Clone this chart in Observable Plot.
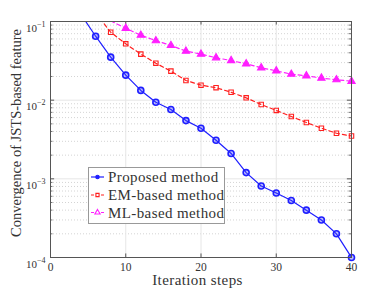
<!DOCTYPE html>
<html><head><meta charset="utf-8">
<script src="https://cdn.jsdelivr.net/npm/d3@7"></script>
<script src="https://cdn.jsdelivr.net/npm/@observablehq/plot@0.6"></script>
<style>body{margin:0;background:#fff} svg{display:block}</style>
</head><body><div id="chart"></div>
<script>
const steps    = [4, 6, 8, 10, 12, 14, 16, 18, 20, 22, 24, 26, 28, 30, 32, 34, 36, 38, 40];
const proposed = [0.125, 0.065, 0.0352, 0.0208, 0.0133, 0.0094, 0.0076, 0.0055, 0.0044, 0.0031, 0.0021, 0.0012, 0.00081, 0.00066, 0.00053, 0.0004, 0.0003, 0.0002, 0.0001];
const emBased  = [null, 0.129, 0.073, 0.052, 0.0385, 0.0295, 0.0234, 0.0178, 0.0155, 0.0144, 0.0126, 0.0107, 0.0088, 0.0074, 0.0062, 0.0052, 0.0044, 0.0038, 0.0035];
const mlBased  = [null, null, 0.102, 0.082, 0.067, 0.057, 0.0496, 0.042, 0.0385, 0.0346, 0.0319, 0.029, 0.0258, 0.0236, 0.0214, 0.0204, 0.0191, 0.0182, 0.0174];
const seriesNames = ["Proposed method", "EM-based method", "ML-based method"];
const xTicks = [0, 10, 20, 30, 40];
const yTicks = [1e-4, 1e-3, 1e-2, 1e-1];
const xLabel = "Iteration steps";
const yLabel = "Convergence of JSTS-based feature";

const colors = ["#1f1fff", "#ff1f1f", "#ff1fff"];
const symbols = ["circle", "square", "triangle"];
const yMax = yTicks[yTicks.length - 1], yMin = yTicks[0];
const xMin = xTicks[0], xMax = xTicks[xTicks.length - 1];
const minorY = yTicks.slice(0, -1).flatMap(d => [2,3,4,5,6,7,8,9].map(k => k * d));

const rows = (vals) => steps.map((s, i) => ({step: s, v: vals[i]})).filter(d => d.v != null);
const data = [proposed, emBased, mlBased].map(rows);
const inside = (arr) => arr.filter(d => d.v <= yMax * 1.0001);

const lineOpts = (i) => ({x: "step", y: "v", stroke: colors[i], strokeWidth: 1.2, clip: true,
  strokeDasharray: i === 0 ? null : "4,3"});
const dotOpts = (i) => ({x: "step", y: "v", symbol: () => symbols[i], r: [3, 2.5, 2.7][i],
  stroke: colors[i], strokeWidth: i === 0 ? 1.6 : 1.1,
  fill: i === 2 ? colors[i] : (i === 0 ? "rgba(60,60,255,0.35)" : "none")});

const tickLen = 0.55, tickLenY = 0.045;
const W = 388, H = 291, mL = 50, mR = 37, mT = 21, mB = 34;
const plot = Plot.plot({
  width: W, height: H,
  marginLeft: mL, marginRight: mR, marginTop: mT, marginBottom: mB,
  style: {fontFamily: "'Liberation Serif', serif", fontSize: "11px", color: "#333", background: "#fff"},
  x: {domain: [xMin, xMax]},
  y: {type: "log", domain: [yMin, yMax]},
  marks: [
    Plot.ruleY(minorY, {stroke: "#d4d4d4", strokeDasharray: "1,2"}),
    Plot.ruleY(yTicks.slice(1, -1), {stroke: "#e6e6e6"}),
    Plot.ruleX(xTicks.slice(1, -1), {stroke: "#e6e6e6"}),
    Plot.ruleY(yTicks, {x1: xMin, x2: xMin + tickLen, stroke: "#555"}),
    Plot.ruleY(yTicks, {x1: xMax - tickLen, x2: xMax, stroke: "#555"}),
    Plot.ruleY(minorY, {x1: xMin, x2: xMin + tickLen * 0.6, stroke: "#777"}),
    Plot.ruleY(minorY, {x1: xMax - tickLen * 0.6, x2: xMax, stroke: "#777"}),
    Plot.ruleX(xTicks, {y1: yMin, y2: yMin * Math.pow(10, tickLenY), stroke: "#555"}),
    Plot.ruleX(xTicks, {y1: yMax / Math.pow(10, tickLenY), y2: yMax, stroke: "#555"}),
    ...[2, 1, 0].map(i => Plot.line(data[i], lineOpts(i))),
    ...[2, 1, 0].map(i => Plot.dot(inside(data[i]), dotOpts(i))),
    Plot.frame({stroke: "#555"}),
    Plot.axisX({ticks: xTicks, tickSize: 0, tickPadding: 5, label: null, fontSize: 11.5}),
    Plot.axisY({ticks: yTicks, tickSize: 0, tickPadding: 5, label: null,
      tickFormat: d => String(Math.round(Math.log10(d))), fontSize: 11})
  ]
});

const svg = d3.select(plot);
// superscript exponents on y tick labels
svg.selectAll('[aria-label="y-axis tick label"] text').each(function() {
  const exp = this.textContent;
  const t = d3.select(this);
  t.text(null).attr("dy", "0.6em");
  t.append("tspan").text("10");
  t.append("tspan").attr("dy", "-0.62em").attr("font-size", "8px").text(exp.replace("-", "\u2212"));
});

// axis titles
const cx = (mL + W - mR) / 2, cy = (mT + H - mB) / 2;
svg.append("text").attr("x", cx - 3).attr("y", 285).attr("text-anchor", "middle")
  .attr("font-family", "'Liberation Serif', serif").attr("font-size", "15px").attr("letter-spacing", "0.4px")
  .attr("fill", "#333").text(xLabel);
svg.append("text").attr("transform", `translate(21,${cy - 6}) rotate(-90)`).attr("text-anchor", "middle")
  .attr("font-family", "'Liberation Serif', serif").attr("font-size", "14.5px").attr("fill", "#333").text(yLabel);

// legend
const lg = svg.append("g").attr("font-family", "'Liberation Serif', serif").attr("font-size", "15px")
  .attr("letter-spacing", "0.4px");
lg.append("rect").attr("x", 88.5).attr("y", 167.5).attr("width", 136).attr("height", 56)
  .attr("fill", "#fff").attr("stroke", "#999");
const rowY = [177, 195, 212.5];
seriesNames.forEach((name, i) => {
  const y = rowY[i];
  lg.append("line").attr("x1", 91).attr("x2", 104).attr("y1", y).attr("y2", y)
    .attr("stroke", colors[i]).attr("stroke-width", 1.2).attr("stroke-dasharray", i === 0 ? null : "3,2");
  const sym = d3.symbol().type([d3.symbolCircle, d3.symbolSquare, d3.symbolTriangle][i]).size([9, 10, 12][i])();
  lg.append("path").attr("d", sym).attr("transform", `translate(97.5,${y})`)
    .attr("stroke", colors[i]).attr("stroke-width", 1.1).attr("fill", i === 0 ? colors[i] : "#fff");
  lg.append("text").attr("x", 108).attr("y", y).attr("dy", "0.35em").attr("text-anchor", "start")
    .attr("fill", "#333").text(name);
});

document.getElementById("chart").appendChild(plot);
</script></body></html>
